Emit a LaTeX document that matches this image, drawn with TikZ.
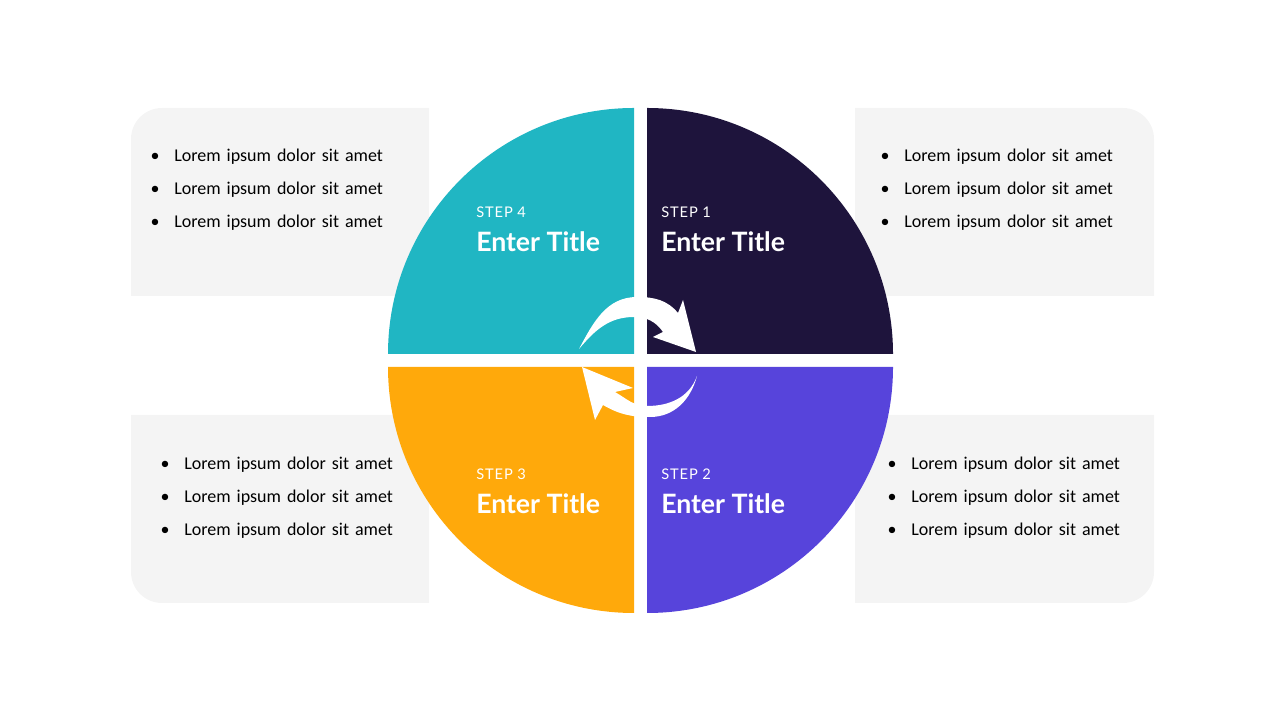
\documentclass[tikz,border=0pt]{standalone}
\usepackage{fontspec}
\setmainfont{Carlito}
\newfontfamily\latofont{Lato}
\newfontfamily\steplfont[LetterSpace=6]{Lato}
\usepackage{enumitem}
\usepackage{xcolor}
\definecolor{boxgray}{HTML}{F4F4F4}
\definecolor{stepteal}{HTML}{20B6C3}
\definecolor{stepnavy}{HTML}{1E143C}
\definecolor{stepviolet}{HTML}{5744DB}
\definecolor{steporange}{HTML}{FFA90B}
\tikzset{
    notelist/.style={text width=200pt, inner sep=0pt, anchor=base west, font=\fontsize{13.5}{24.75}\selectfont},
    steplabel/.style={text=white, inner sep=0pt, anchor=base west, font=\steplfont\fontsize{11}{13}\selectfont},
    steptitle/.style={text=white, inner sep=0pt, anchor=base west, font=\latofont\bfseries\fontsize{20}{24}\selectfont},
}

\begin{document}
\begin{tikzpicture}[x=0.75pt, y=0.75pt]
                \useasboundingbox (0,0) rectangle (1280,720);
                % grey note boxes, one rounded corner each
                \fill[boxgray] (429,612) -- (162,612) arc[start angle=90, end angle=180, radius=31] -- (131,424) -- (429,424) -- cycle;
                \fill[boxgray] (855,612) -- (1123,612) arc[start angle=90, end angle=0, radius=31] -- (1154,424) -- (855,424) -- cycle;
                \fill[boxgray] (429,305) -- (131,305) -- (131,148) arc[start angle=180, end angle=270, radius=31] -- (429,117) -- cycle;
                \fill[boxgray] (855,305) -- (1154,305) -- (1154,148) arc[start angle=0, end angle=-90, radius=31] -- (855,117) -- cycle;
                % quarter discs
                \fill[stepteal] (634,366) -- (388,366) arc[start angle=180, end angle=90, radius=246] -- cycle;
                \fill[stepnavy] (647,366) -- (647,612) arc[start angle=90, end angle=0, radius=246] -- cycle;
                \fill[stepviolet] (647,353) -- (893,353) arc[start angle=0, end angle=-90, radius=246] -- cycle;
                \fill[steporange] (634,353) -- (634,107) arc[start angle=-90, end angle=-180, radius=246] -- cycle;
                % cycle arrows
                \fill[white] (579,371) to[out=62, in=180] (637,423) to[out=0, in=130] (678,407) -- (683,420) -- (696,368) -- (653,383) -- (663,388)
                    to[out=125, in=0] (634,403) to[out=180, in=50] (579,371) -- cycle;
                \fill[white] (697,344) to[out=-105, in=0] (650,303) to[out=180, in=-30] (603,315) -- (595,300) -- (582,353) -- (633,332) -- (615,328)
                    to[out=-30, in=180] (647,314) to[out=0, in=-110] (697,344) -- cycle;
                % step titles
                \node[steplabel] (step4) at (476,502) {STEP 4};
                \node[steptitle] (title4) at (476,468) {Enter Title};
                \node[steplabel] (step1) at (661,502) {STEP 1};
                \node[steptitle] (title1) at (661,468) {Enter Title};
                \node[steplabel] (step3) at (476,240) {STEP 3};
                \node[steptitle] (title3) at (476,206) {Enter Title};
                \node[steplabel] (step2) at (661,240) {STEP 2};
                \node[steptitle] (title2) at (661,206) {Enter Title};
                % bullet notes
                \node[notelist] (note4) at (154,591) {
                    \begin{itemize}[leftmargin=15pt, labelsep=11pt, itemsep=0pt, parsep=0pt, topsep=0pt]
                        \item Lorem ipsum dolor sit amet
                        \item Lorem ipsum dolor sit amet
                        \item Lorem ipsum dolor sit amet
                    \end{itemize}
                };
                \node[notelist] (note1) at (884,591) {
                    \begin{itemize}[leftmargin=15pt, labelsep=11pt, itemsep=0pt, parsep=0pt, topsep=0pt]
                        \item Lorem ipsum dolor sit amet
                        \item Lorem ipsum dolor sit amet
                        \item Lorem ipsum dolor sit amet
                    \end{itemize}
                };
                \node[notelist] (note3) at (164,283) {
                    \begin{itemize}[leftmargin=15pt, labelsep=11pt, itemsep=0pt, parsep=0pt, topsep=0pt]
                        \item Lorem ipsum dolor sit amet
                        \item Lorem ipsum dolor sit amet
                        \item Lorem ipsum dolor sit amet
                    \end{itemize}
                };
                \node[notelist] (note2) at (891,283) {
                    \begin{itemize}[leftmargin=15pt, labelsep=11pt, itemsep=0pt, parsep=0pt, topsep=0pt]
                        \item Lorem ipsum dolor sit amet
                        \item Lorem ipsum dolor sit amet
                        \item Lorem ipsum dolor sit amet
                    \end{itemize}
                };
            \end{tikzpicture}
\end{document}
